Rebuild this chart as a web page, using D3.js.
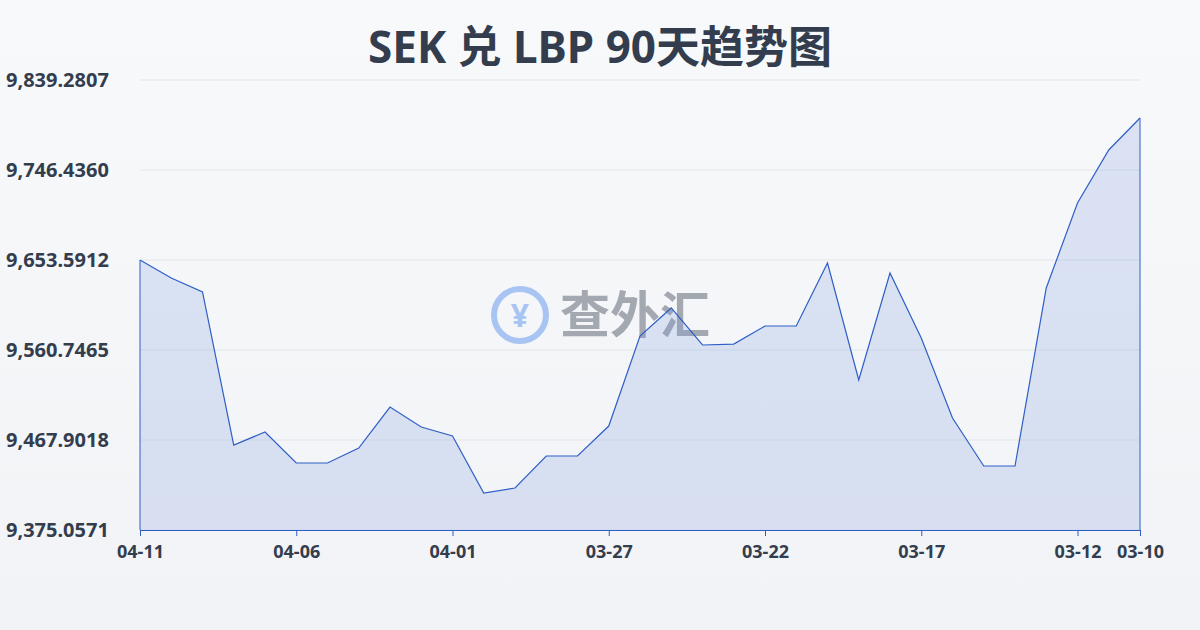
<!DOCTYPE html>
<html><head><meta charset="utf-8">
<script src="https://cdn.jsdelivr.net/npm/d3@7/dist/d3.min.js"></script>
<style>body{margin:0}svg{display:block;font-family:"Noto Sans","Noto Sans CJK SC",sans-serif}</style>
</head><body><svg id="c" width="1200" height="630"></svg>
<script>
const dates=["04-11","04-10","04-09","04-08","04-07","04-06","04-05","04-04","04-03","04-02","04-01","03-31","03-30","03-29","03-28","03-27","03-26","03-25","03-24","03-23","03-22","03-21","03-20","03-19","03-18","03-17","03-16","03-15","03-14","03-13","03-12","03-11","03-10"];
const values=[9653.6,9635.0,9620.6,9462.7,9476.2,9444.2,9444.2,9459.6,9501.9,9481.3,9472.0,9413.2,9418.4,9451.4,9451.4,9482.3,9575.2,9604.1,9565.9,9566.9,9585.5,9585.5,9650.5,9529.8,9640.2,9573.1,9490.6,9441.1,9441.1,9624.7,9712.4,9767.1,9800.1];
const yTicks=[9375.0571,9467.9018,9560.7465,9653.5912,9746.4360,9839.2807];
const xTickLabels=["04-11","04-06","04-01","03-27","03-22","03-17","03-12","03-10"];
const title="SEK 兑 LBP 90天趋势图";

const svg=d3.select("#c");
const defs=svg.append("defs");
const bg=defs.append("linearGradient").attr("id","bg").attr("x1",0).attr("y1",0).attr("x2",0).attr("y2",1);
bg.append("stop").attr("offset",0).attr("stop-color","#f8f9fb");
bg.append("stop").attr("offset",1).attr("stop-color","#f1f3f6");
svg.append("rect").attr("width",1200).attr("height",630).attr("fill","url(#bg)");

const x=d3.scalePoint().domain(dates).range([140,1140]);
const y=d3.scaleLinear().domain([yTicks[0],yTicks[5]]).range([530,80]);

svg.append("text").attr("x",600).attr("y",63).attr("text-anchor","middle").attr("font-size",44).attr("font-weight","bold").attr("fill","#333d4d").text(title);

svg.append("g").selectAll("line").data(yTicks).join("line")
 .attr("x1",140).attr("x2",1140).attr("y1",d=>y(d)).attr("y2",d=>y(d)).attr("stroke","#e3e6ea").attr("stroke-width",1);
svg.append("g").selectAll("text").data(yTicks).join("text")
 .attr("x",6).attr("y",d=>y(d)+7).attr("font-size",20).attr("font-weight","bold").attr("fill","#333d4d")
 .text(d=>d3.format(",.4f")(d));

const wm=svg.append("g").attr("opacity",0.75);
wm.append("circle").attr("cx",520).attr("cy",315).attr("r",26).attr("fill","none").attr("stroke","#8fb4f0").attr("stroke-width",6);
wm.append("text").attr("x",520).attr("y",327).attr("text-anchor","middle").attr("font-size",32).attr("font-weight","bold").attr("fill","#8fb4f0").text("¥");
wm.append("text").attr("x",560).attr("y",333).attr("font-size",50).attr("font-weight","bold").attr("fill","#8a8f99").text("查外汇");

const area=d3.area().x((d,i)=>x(dates[i])).y0(530).y1(d=>y(d));
const line=d3.line().x((d,i)=>x(dates[i])).y(d=>y(d));
svg.append("path").datum(values).attr("d",area).attr("fill","rgba(120,150,225,0.22)");
svg.append("path").datum(values).attr("d",line).attr("fill","none").attr("stroke","#2f5fc6").attr("stroke-width",1.2);
svg.append("line").attr("x1",140).attr("x2",140).attr("y1",y(values[0])).attr("y2",530).attr("stroke","#2f5fc6");
svg.append("line").attr("x1",1140).attr("x2",1140).attr("y1",y(values[32])).attr("y2",530).attr("stroke","#2f5fc6");

const ax=svg.append("g").attr("transform","translate(0,530)").call(d3.axisBottom(x).tickValues(xTickLabels).tickSize(6).tickFormat(d=>d));
ax.select(".domain").attr("stroke","#2f5fc6");
ax.selectAll("line").attr("stroke","#2f5fc6");
ax.selectAll("text").attr("font-size",18).attr("font-weight","bold").attr("fill","#333d4d").attr("dy","1.05em")
 .attr("font-family","'Noto Sans',sans-serif");
</script></body></html>
